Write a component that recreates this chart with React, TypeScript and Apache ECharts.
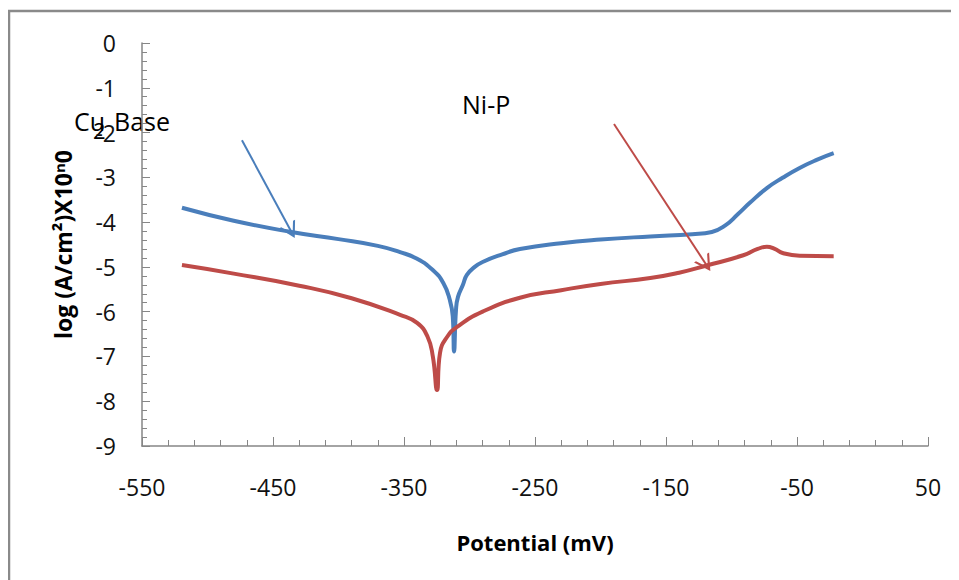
import React, { useEffect, useRef } from "react";
import * as echarts from "echarts";

const cuBase: [number, number][] = [
  [-519.5, -3.68], [-480, -3.97], [-436, -4.22], [-400, -4.38], [-370, -4.53],
  [-353, -4.67], [-340, -4.82], [-328, -5.07], [-320, -5.36], [-315, -5.74],
  [-312.8, -6.1], [-311.8, -6.89], [-310.3, -5.96], [-308.8, -5.67], [-305, -5.4],
  [-302, -5.18], [-296, -5.0], [-290, -4.89], [-275, -4.72], [-261.5, -4.6],
  [-230, -4.47], [-200, -4.39], [-162, -4.32], [-130, -4.27], [-115, -4.22],
  [-105, -4.08], [-95, -3.82], [-86, -3.57], [-73, -3.24], [-61, -3.01],
  [-48, -2.79], [-35, -2.61], [-22, -2.46],
];

const niP: [number, number][] = [
  [-519.5, -4.96], [-480, -5.15], [-430, -5.42], [-390, -5.7], [-353, -6.07],
  [-340, -6.25], [-332, -6.56], [-328, -7.0], [-324.8, -7.75], [-322.5, -6.92],
  [-317, -6.56], [-309.5, -6.34], [-290, -6.0], [-261.5, -5.69], [-230, -5.52],
  [-200, -5.38], [-162, -5.25], [-140, -5.13], [-119, -4.97], [-91, -4.74],
  [-80, -4.6], [-73, -4.55], [-67, -4.6], [-61, -4.69], [-48, -4.75],
  [-22, -4.76],
];

const cuArrow: [number, number][] = [[-473.7, -2.17], [-436.3, -4.2]];
const niArrow: [number, number][] = [[-189.7, -1.81], [-119.5, -4.94]];

const xTicks = { min: -550, max: 50, interval: 100 };
const yTicks = { min: -9, max: 0, interval: 1 };

const BLUE = "#4A7EBB";
const RED = "#BE4B48";
const AXIS = "#868686";
const FONT = "'Open Sans', 'Liberation Sans', sans-serif";

const chevron = "path://M5,0 L10,10 L8.7,10 L5,2.8 L1.3,10 L0,10 Z";

export default function App() {
  const ref = useRef<HTMLDivElement>(null);
  useEffect(() => {
    if (!ref.current) return;
    const chart = echarts.init(ref.current, null, { renderer: "svg" });
    const arrowLine = (pts: [number, number][], color: string) => ({
      silent: true,
      symbol: ["none", chevron],
      symbolSize: [18, 16],
      label: { show: false },
      lineStyle: { color, width: 2, type: "solid" },
      data: [[{ coord: pts[0] }, { coord: pts[1] }]],
    });
    chart.setOption({
      animation: false,
      backgroundColor: "#ffffff",
      grid: { left: 142, right: 31, top: 43, bottom: 134 },
      graphic: [
        {
          type: "rect",
          shape: { x: 9, y: 11, width: 1200, height: 1000 },
          style: { fill: "none", stroke: "#8a8a8a", lineWidth: 2.5 },
          silent: true,
        },
        {
          type: "text",
          left: 74,
          top: 108,
          style: { text: "Cu", font: `25px ${FONT}`, fill: "#000" },
        },
        {
          type: "text",
          left: 93,
          top: 119,
          style: { text: "2", font: `22px ${FONT}`, fill: "#000" },
        },
        {
          type: "text",
          left: 114,
          top: 108,
          style: { text: "Base", font: `25px ${FONT}`, fill: "#000" },
        },
        {
          type: "text",
          left: 462,
          top: 91,
          style: { text: "Ni-P", font: `25px ${FONT}`, fill: "#000" },
        },
      ],
      xAxis: {
        type: "value",
        ...xTicks,
        name: "Potential (mV)",
        nameLocation: "middle",
        nameGap: 85,
        nameTextStyle: { fontFamily: FONT, fontSize: 22, fontWeight: "bold", color: "#000" },
        axisLine: { show: true, onZero: false, lineStyle: { color: AXIS, width: 1.5 } },
        axisTick: { show: true, inside: true, length: 9, lineStyle: { color: AXIS } },
        minorTick: { show: true, splitNumber: 5, length: 6, lineStyle: { color: AXIS } },
        splitLine: { show: false },
        axisLabel: { margin: 29, fontFamily: FONT, fontSize: 23, color: "#111" },
      },
      yAxis: {
        type: "value",
        ...yTicks,
        name: "log (A/cm²)X10ⁿ0",
        nameLocation: "middle",
        nameGap: 68,
        nameTextStyle: { fontFamily: FONT, fontSize: 23, fontWeight: "bold", color: "#000" },
        axisLine: { show: true, onZero: false, lineStyle: { color: AXIS, width: 1.5 } },
        axisTick: { show: true, inside: true, length: 8, lineStyle: { color: AXIS } },
        minorTick: { show: true, splitNumber: 5, length: 5, lineStyle: { color: AXIS } },
        splitLine: { show: false },
        axisLabel: { margin: 26, fontFamily: FONT, fontSize: 23, color: "#111" },
      },
      series: [
        {
          name: "Cu Base",
          type: "line",
          data: cuBase,
          showSymbol: false,
          smooth: 0.5,
          lineStyle: { color: BLUE, width: 4 },
          markLine: arrowLine(cuArrow, BLUE),
        },
        {
          name: "Ni-P",
          type: "line",
          data: niP,
          showSymbol: false,
          smooth: 0.5,
          lineStyle: { color: RED, width: 4 },
          markLine: arrowLine(niArrow, RED),
        },
      ],
    });
    return () => chart.dispose();
  }, []);
  return <div ref={ref} style={{ width: 959, height: 580, marginLeft: -8, marginTop: -8 }} />;
}
